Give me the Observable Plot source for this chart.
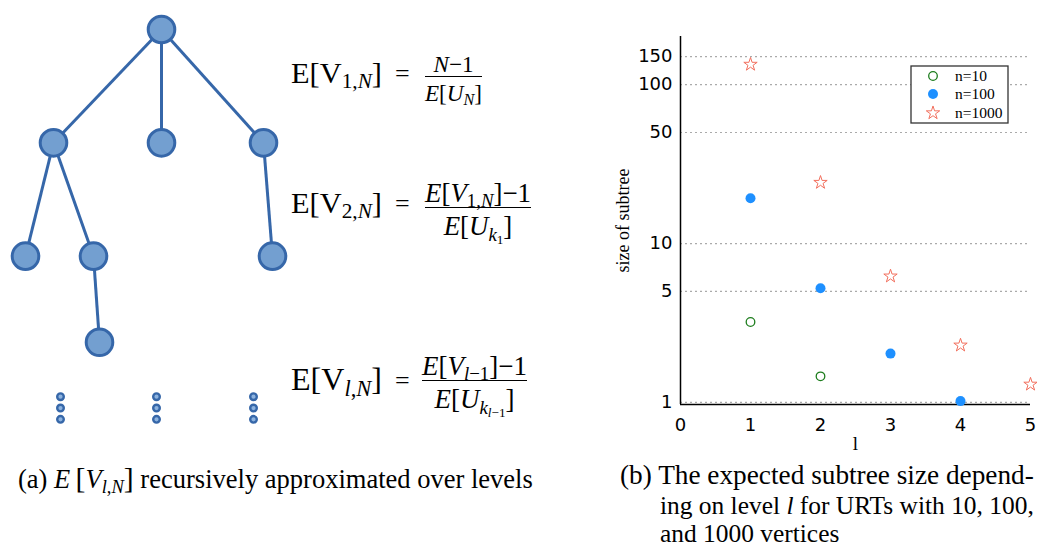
<!DOCTYPE html>
<html><head><meta charset="utf-8">
<script src="https://cdn.jsdelivr.net/npm/d3@7"></script>
<script src="https://cdn.jsdelivr.net/npm/@observablehq/plot@0.6"></script>
<style>
body{margin:0;background:#fff}
#fig{position:relative;width:1037px;height:548px;overflow:hidden;background:#fff;font-family:"Liberation Serif","DejaVu Serif",serif;color:#000}
.abs{position:absolute;white-space:nowrap;line-height:1}
.sb{font-size:0.7em;position:relative;top:0.28em}
.frac{position:absolute;display:inline-block;text-align:center;line-height:1;white-space:nowrap}
.frac .bar{height:0;border-top:1px solid #000}
.frac .den{padding-top:0.2em}
.big{font-size:1.12em}
</style></head><body><div id="fig"></div>
<script>
// ---------- data: right panel ----------
const levels = [1, 2, 3, 4, 5];
const seriesNames = ["n=10", "n=100", "n=1000"];
const n10 = [3.21, 1.46];
const n100 = [19.3, 5.24, 2.03, 1.02];
const n1000 = [134, 24.2, 6.23, 2.29, 1.30];
const yTicks = [1, 5, 10, 50, 100, 150];
const xTicks = [0, 1, 2, 3, 4, 5];
const yLabel = "size of subtree";
const xLabel = "l";

// ---------- data: left panel (tree diagram) ----------
const nodeCol = [16.1, 5.3, 16.1, 26.3, 2.5, 9.3, 27.2, 9.9];
const nodeDepth = [0, 1, 1, 1, 2, 2, 2, 2.76];
const nodeParent = [null, 0, 0, 0, 1, 1, 3, 5];
const ellipsisCol = [6.0, 15.6, 25.3];
const ellipsisDepth = [3.24, 3.34, 3.44];

const fig = document.getElementById("fig");

// ---------- left: tree ----------
const treeNodes = nodeCol.map((c, i) => ({c, d: nodeDepth[i], p: nodeParent[i]}));
const edges = treeNodes.filter(n => n.p !== null)
  .map(n => ({c1: treeNodes[n.p].c, d1: treeNodes[n.p].d, c2: n.c, d2: n.d}));
const ell = ellipsisCol.flatMap(c => ellipsisDepth.map(d => ({c, d})));
const nodeFill = "#739fd0", nodeStroke = "#3667a9";
const tree = Plot.plot({
  width: 300, height: 450, marginTop: 0, marginRight: 0, marginBottom: 0, marginLeft: 0,
  x: {domain: [0, 30], range: [0, 300], axis: null},
  y: {domain: [0, 3], range: [29, 369], axis: null},
  style: {background: "transparent", overflow: "visible"},
  marks: [
    Plot.link(edges, {x1: "c1", y1: "d1", x2: "c2", y2: "d2", stroke: nodeStroke, strokeWidth: 3}),
    Plot.dot(treeNodes, {x: "c", y: "d", r: 13.3, fill: nodeFill, stroke: nodeStroke, strokeWidth: 3}),
    Plot.dot(ell, {x: "c", y: "d", r: 3.3, fill: "#8db3df", stroke: nodeStroke, strokeWidth: 2.4})
  ]
});
tree.style.position = "absolute"; tree.style.left = "0px"; tree.style.top = "0px";
fig.appendChild(tree);

// ---------- text helpers ----------
function textAt(html, left, baseline, size, targetWidth) {
  const d = document.createElement("div");
  d.className = "abs"; d.innerHTML = html; d.style.fontSize = size + "px";
  fig.appendChild(d);
  let fs = size;
  if (targetWidth) { const w = d.getBoundingClientRect().width; fs = size * targetWidth / w; d.style.fontSize = fs + "px"; }
  d.style.left = left + "px"; d.style.top = (baseline - 0.8375 * fs) + "px";
  return fs;
}
function fracAt(num, den, left, barY, size, targetWidth) {
  const d = document.createElement("div");
  d.className = "frac";
  d.innerHTML = `<div class="num">${num}</div><div class="bar"></div><div class="den">${den}</div>`;
  d.style.fontSize = size + "px";
  fig.appendChild(d);
  let fs = size;
  if (targetWidth) { const w = d.getBoundingClientRect().width; fs = size * targetWidth / w; d.style.fontSize = fs + "px"; }
  d.style.left = left + "px"; d.style.top = (barY - fs) + "px";
}

// formulas
const formulas = [
  {lhs: 'E[V<span class="sb">1,<i>N</i></span>]', num: '<i>N</i>\u22121', den: '<i>E</i>[<i>U</i><span class="sb"><i>N</i></span>]', base: 83, bar: 76, fl: 425, fw: 57},
  {lhs: 'E[V<span class="sb">2,<i>N</i></span>]', num: '<i>E</i>[<i>V</i><span class="sb">1,<i>N</i></span>]\u22121', den: '<i>E</i>[<i>U</i><span class="sb"><i>k</i><span class="sb">1</span></span>]', base: 213, bar: 207, fl: 425, fw: 106},
  {lhs: 'E[V<span class="sb"><i>l</i>,<i>N</i></span>]', num: '<i>E</i>[<i>V</i><span class="sb"><i>l</i>\u22121</span>]\u22121', den: '<i>E</i>[<i>U</i><span class="sb"><i>k</i><span class="sb"><i>l</i>\u22121</span></span>]', base: 390, bar: 380, fl: 422, fw: 105}
];
formulas.forEach(f => {
  textAt(f.lhs, 291, f.base, 22, 91);
  textAt("=", 395, f.base, 26);
  fracAt(f.num, f.den, f.fl, f.bar, 16, f.fw);
});

// captions
textAt('(a) <i>E</i>&#8201;<span class="big">[</span><i>V</i><span class="sb"><i>l</i>,<i>N</i></span><span class="big">]</span> recursively approximated over levels', 18, 486, 21, 515);
textAt('(b) The expected subtree size depend-', 620, 485, 21, 414);
const fsB2 = textAt('ing on level <i>l</i> for URTs with 10, 100,', 660, 514, 21, 374);
textAt('and 1000 vertices', 660, 542, fsB2);

// ---------- right: scatter ----------
const cols = {"n=10": "#1d7d1d", "n=100": "#1e90ff", "n=1000": "#f2705e"};
const pts = [];
[n10, n100, n1000].forEach((arr, i) => arr.forEach((v, j) => pts.push({series: seriesNames[i], l: levels[j], v})));
const yDom = [0.971, 201];
const serif = "Liberation Serif, DejaVu Serif, serif";
const right = Plot.plot({
  width: 437, height: 460, marginLeft: 80, marginRight: 7, marginTop: 36, marginBottom: 56,
  x: {domain: [0, 5]},
  y: {type: "log", domain: yDom},
  style: {background: "transparent", overflow: "visible", fontFamily: "DejaVu Sans, sans-serif", fontSize: "18px", color: "#000"},
  marks: [
    Plot.ruleY(yTicks, {stroke: "#aaaaaa", strokeDasharray: "2,3", strokeWidth: 1.2}),
    Plot.ruleX([0], {stroke: "#000", strokeWidth: 1.5}),
    Plot.ruleY([yDom[0]], {stroke: "#000", strokeWidth: 1.5}),
    Plot.axisY({ticks: yTicks, tickSize: 0, tickPadding: 8, tickFormat: d => String(d), label: null, fontSize: 18}),
    Plot.axisX({ticks: xTicks, tickSize: 0, tickPadding: 14, tickFormat: d => String(d), label: null, fontSize: 18}),
    Plot.dot(pts.filter(p => p.series === "n=10"), {x: "l", y: "v", r: 4.3, fill: "none", stroke: cols["n=10"], strokeWidth: 1.3}),
    Plot.dot(pts.filter(p => p.series === "n=100"), {x: "l", y: "v", r: 5, fill: cols["n=100"], stroke: "none"}),
    Plot.dot(pts.filter(p => p.series === "n=1000"), {x: "l", y: "v", symbol: "star", r: 4.2, fill: "none", stroke: cols["n=1000"], strokeWidth: 1}),
    Plot.text([yLabel], {frameAnchor: "left", textAnchor: "middle", lineAnchor: "middle", dx: -57, rotate: -90, fontFamily: serif, fontSize: 18}),
    Plot.text([xLabel], {frameAnchor: "bottom", textAnchor: "middle", lineAnchor: "middle", dy: 39, fontFamily: serif, fontSize: 19})
  ]
});
right.style.position = "absolute"; right.style.left = "600px"; right.style.top = "0px";
fig.appendChild(right);

// legend
const lg = d3.select(fig).append("svg")
  .attr("width", 99).attr("height", 59)
  .style("position", "absolute").style("left", "910px").style("top", "65px");
lg.append("rect").attr("x", 1).attr("y", 1).attr("width", 97).attr("height", 57)
  .attr("fill", "#fff").attr("stroke", "#333").attr("stroke-width", 1.3);
const rowsY = [11, 29, 48];
seriesNames.forEach((s, i) => {
  const g = lg.append("g").attr("transform", `translate(23,${rowsY[i]})`);
  if (i === 0) g.append("circle").attr("r", 4.3).attr("fill", "none").attr("stroke", cols[s]).attr("stroke-width", 1.3);
  if (i === 1) g.append("circle").attr("r", 5).attr("fill", cols[s]);
  if (i === 2) g.append("path").attr("d", d3.symbol(d3.symbolStar, 4.2 * 4.2 * Math.PI)()).attr("fill", "none").attr("stroke", cols[s]).attr("stroke-width", 1);
  lg.append("text").attr("x", 45).attr("y", rowsY[i]).attr("dy", "0.35em")
    .attr("font-family", serif).attr("font-size", 15.5).text(s);
});
</script></body></html>
